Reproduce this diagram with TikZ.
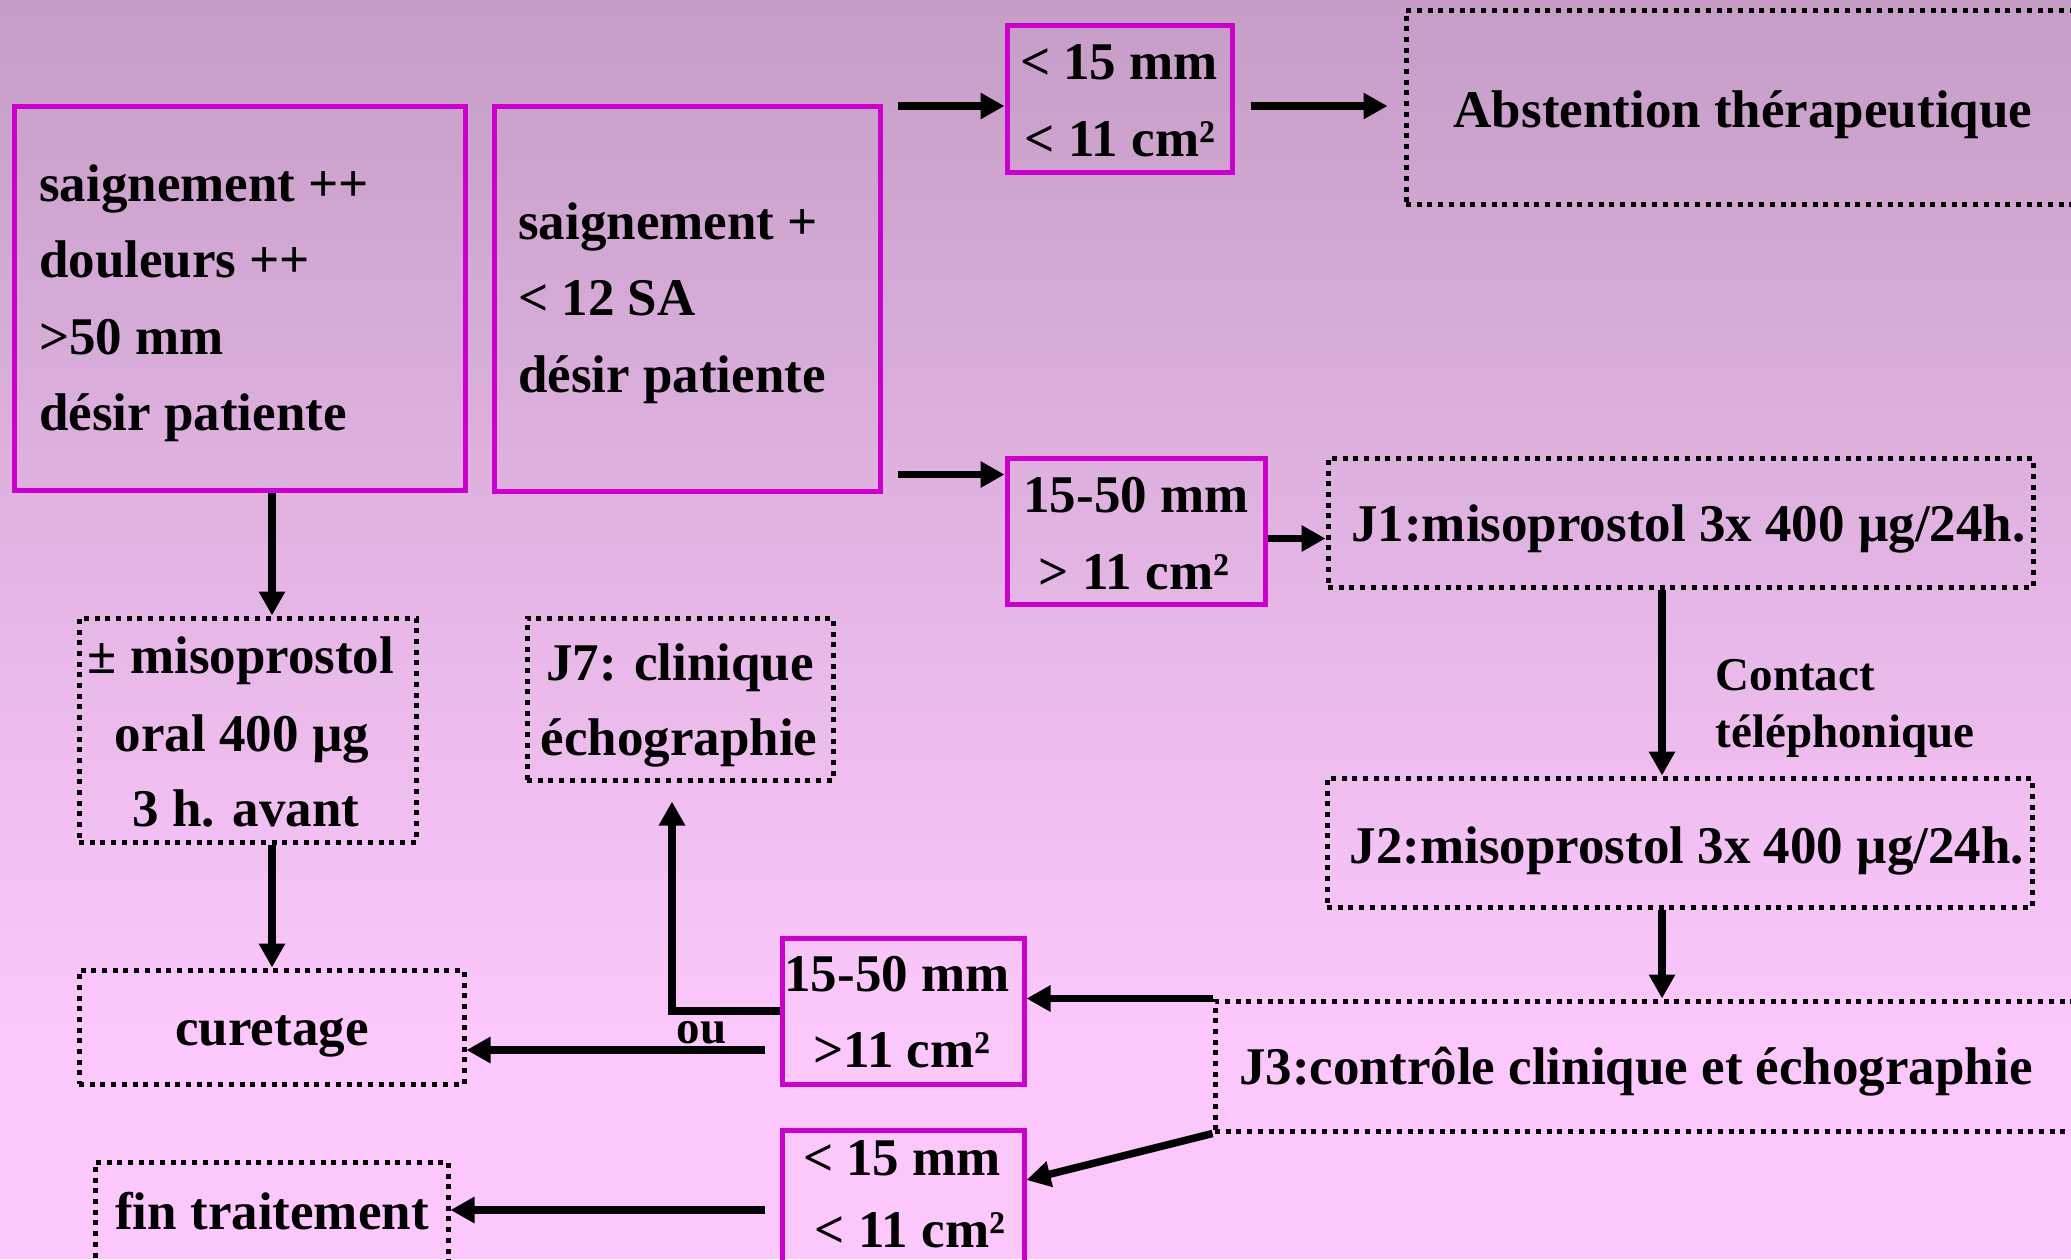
\documentclass[tikz,border=0pt]{standalone}
\usepackage{fontspec}
\setmainfont{Liberation Serif}
\usetikzlibrary{arrows.meta,calc}
\definecolor{bgtop}{RGB}{197,157,198}
\definecolor{bgbot}{RGB}{252,200,252}
\definecolor{mag}{RGB}{204,0,204}
\begin{document}
\begin{tikzpicture}[x=1pt,y=-1pt,
  mbox/.style={draw=mag, line width=5pt, inner sep=0pt},
  dbox/.style={draw=black, line width=5pt, dash pattern=on 5pt off 5.7pt, inner sep=0pt},
  txt/.style={inner sep=0pt, font=\bfseries\fontsize{53}{60}\selectfont},
  stxt/.style={inner sep=0pt, font=\bfseries\fontsize{47}{52}\selectfont},
  arr/.style={line width=7.5pt, -{Triangle[length=24pt,width=25pt]}}]
\useasboundingbox (0,0) rectangle (2071,1259);
\shade[top color=bgtop, bottom color=bgbot] (0,0) rectangle (2071,1030);
\fill[bgbot] (0,1029) rectangle (2071,1259);

% boxes
\node[mbox, minimum width=451pt, minimum height=384pt] (A) at (239.5,298) {};
\node[mbox, minimum width=386pt, minimum height=385pt] (B) at (687,298.5) {};
\node[mbox, minimum width=225pt, minimum height=147pt] (C) at (1119.5,98.5) {};
\node[dbox, minimum width=676pt, minimum height=194pt] (Abst) at (1744,107) {};
\node[mbox, minimum width=258pt, minimum height=146pt] (D) at (1136,531) {};
\node[dbox, minimum width=705pt, minimum height=129pt] (J1) at (1680.5,522.5) {};
\node[dbox, minimum width=337pt, minimum height=224pt] (Miso) at (247.5,730) {};
\node[dbox, minimum width=306pt, minimum height=162pt] (J7) at (680,699) {};
\node[dbox, minimum width=705pt, minimum height=129pt] (J2) at (1679.5,842.5) {};
\node[dbox, minimum width=385pt, minimum height=114pt] (Cur) at (271.5,1027) {};
\node[mbox, minimum width=242pt, minimum height=146pt] (E) at (903,1011) {};
\node[dbox, minimum width=868pt, minimum height=130pt] (J3) at (1649,1066) {};
\node[mbox, minimum width=242pt, minimum height=145pt] (F) at (903,1202.5) {};
\node[dbox, minimum width=353pt, minimum height=113pt] (Fin) at (271.5,1218.5) {};

% texts
\node[txt, anchor=base west] (tA1) at (39,201) {saignement ++};
\node[txt, anchor=base west] (tA2) at (39,277) {douleurs ++};
\node[txt, anchor=base west] (tA3) at (39,354) {>50 mm};
\node[txt, anchor=base west] (tA4) at (39,430.5) {désir patiente};
\node[txt, anchor=base west] (tB1) at (518,239) {saignement +};
\node[txt, anchor=base west] (tB2) at (518,315) {< 12 SA};
\node[txt, anchor=base west] (tB3) at (518,392) {désir patiente};
\node[txt, anchor=base] (tC1) at (1119,79) {< 15 mm};
\node[txt, anchor=base] (tC2) at (1120,156) {< 11 cm²};
\node[txt, anchor=base] (tAbst) at (1743,127) {Abstention thérapeutique};
\node[txt, anchor=base] (tD1) at (1136,512) {15-50 mm};
\node[txt, anchor=base] (tD2) at (1134,589) {> 11 cm²};
\node[txt, anchor=base west] (tJ1) at (1351,541.7) {J1:misoprostol 3x 400 µg/24h.};
\node[txt, anchor=base] (tM1) at (241,673) {± misoprostol};
\node[txt, anchor=base] (tM2) at (242,751) {oral 400 µg};
\node[txt, anchor=base] (tM3) at (246,826) {3 h. avant};
\node[txt, anchor=base] (tJ71) at (680,680.5) {J7: clinique};
\node[txt, anchor=base] (tJ72) at (679,755) {échographie};
\node[stxt, anchor=base west] (tCo1) at (1715.5,690) {Contact};
\node[stxt, anchor=base west] (tCo2) at (1715.5,747) {téléphonique};
\node[txt, anchor=base west] (tJ2) at (1349.5,863.7) {J2:misoprostol 3x 400 µg/24h.};
\node[txt, anchor=base] (tCur) at (272,1045.6) {curetage};
\node[txt, anchor=base] (tE1) at (897,991) {15-50 mm};
\node[txt, anchor=base] (tE2) at (902,1067) {>11 cm²};
\node[txt, anchor=base west] (tJ3) at (1239,1084.5) {J3:contrôle clinique et échographie};
\node[stxt, anchor=base] (tou) at (701.5,1043) {ou};
\node[txt, anchor=base] (tF1) at (902,1175.5) {< 15 mm};
\node[txt, anchor=base] (tF2) at (910,1247) {< 11 cm²};
\node[txt, anchor=base] (tFin) at (272,1229.6) {fin traitement};

% reference coordinates for connector rows / columns
\coordinate (rowC) at (0,106);
\coordinate (rowD) at (0,474.5);
\coordinate (rowDJ) at (0,538.5);
\coordinate (rowCur) at (0,1050);
\coordinate (rowFin) at (0,1210);
\coordinate (colA) at (272,0);
\coordinate (colJ) at (1662,0);
\coordinate (colJ7) at (672,0);

% connectors
\draw[arr, shorten <=15pt] (B.east |- rowC) -- (C.west |- rowC);
\draw[arr, shorten <=15pt] (B.east |- rowD) -- (D.west |- rowD);
\draw[arr, shorten <=16pt, shorten >=16pt] (C.east |- rowC) -- (Abst.west |- rowC);
\draw[arr] (D.east |- rowDJ) -- (J1.west |- rowDJ);
\draw[arr] (A.south -| colA) -- (Miso.north -| colA);
\draw[arr] (Miso.south -| colA) -- (Cur.north -| colA);
\draw[arr] (J1.south -| colJ) -- (J2.north -| colJ);
\draw[arr] (J2.south -| colJ) -- (J3.north -| colJ);
\draw[arr] (J3.north west) -- (J3.north west -| E.east);
\draw[arr] (J3.south west) -- ([yshift=22.5pt]F.east);
\draw[arr, shorten >=19pt] (E.west) -| (J7.south -| colJ7);
\draw[arr, shorten <=15pt] (E.west |- rowCur) -- (Cur.east |- rowCur);
\draw[arr, shorten <=15pt] (F.west |- rowFin) -- (Fin.east |- rowFin);
\end{tikzpicture}
\end{document}
